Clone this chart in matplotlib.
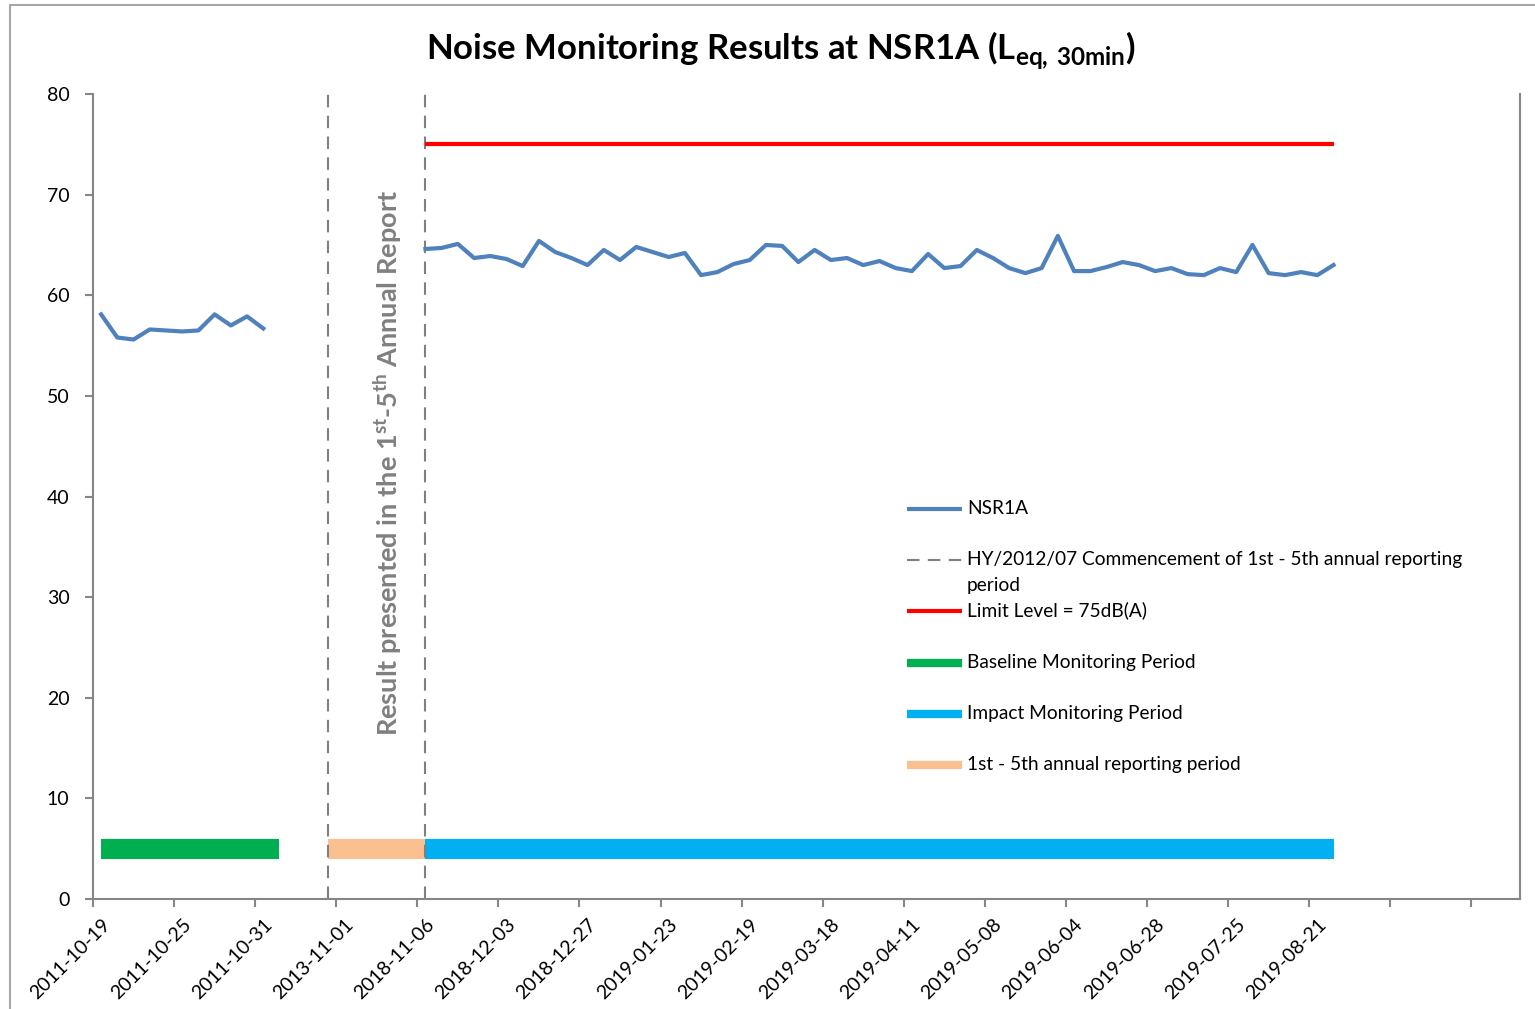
import numpy as np
import matplotlib
matplotlib.use("Agg")
import matplotlib.pyplot as plt
from matplotlib.lines import Line2D

plt.rcParams['font.family'] = ['Lato', 'DejaVu Sans']
plt.rcParams['mathtext.fontset'] = 'custom'
plt.rcParams['mathtext.rm'] = 'Lato'
plt.rcParams['mathtext.bf'] = 'Lato:bold'

# category axis: 88 slots, a date label on every 5th one
n_categories = 88
label_pos = [0, 5, 10, 15, 20, 25, 30, 35, 40, 45, 50, 55, 60, 65, 70, 75]
tick_labels = ["2011-10-19", "2011-10-25", "2011-10-31", "2013-11-01",
               "2018-11-06", "2018-12-03", "2018-12-27", "2019-01-23",
               "2019-02-19", "2019-03-18", "2019-04-11", "2019-05-08",
               "2019-06-04", "2019-06-28", "2019-07-25", "2019-08-21"]

# baseline readings, categories 0..10
baseline_x = np.arange(0, 11)
baseline_leq = [58.1, 55.8, 55.6, 56.6, 56.5, 56.4, 56.5, 58.1, 57.0, 57.9, 56.7]

# impact monitoring readings, categories 20..76
impact_x = np.arange(20, 77)
impact_leq = [64.6, 64.7, 65.1, 63.7, 63.9, 63.6, 62.9, 65.4, 64.3, 63.7,
              63.0, 64.5, 63.5, 64.8, 64.3, 63.8, 64.2, 62.0, 62.3, 63.1,
              63.5, 65.0, 64.9, 63.3, 64.5, 63.5, 63.7, 63.0, 63.4, 62.7,
              62.4, 64.1, 62.7, 62.9, 64.5, 63.7, 62.7, 62.2, 62.7, 65.9,
              62.4, 62.4, 62.8, 63.3, 63.0, 62.4, 62.7, 62.1, 62.0, 62.7,
              62.3, 65.0, 62.2, 62.0, 62.3, 62.0, 63.0]

limit_level = 75
limit_span = [20, 76]
commencement_x = [14, 20]

band_level = 5
baseline_period = [0, 11]
annual_period = [14, 20]
impact_period = [20, 76]

blue = "#4f81bd"
red = "#ff0000"
green = "#00b050"
cyan = "#00b0f0"
peach = "#fac090"
grey = "#808080"
axis_grey = "#868686"

fig = plt.figure(figsize=(15.35, 10.09), dpi=100)
ax = fig.add_axes([93 / 1535, 110 / 1009, 1427 / 1535, 805 / 1009])

band_lw = 14.5
ax.plot(baseline_period, [band_level] * 2, color=green, lw=band_lw, solid_capstyle='butt')
ax.plot(annual_period, [band_level] * 2, color=peach, lw=band_lw, solid_capstyle='butt')
ax.plot(impact_period, [band_level] * 2, color=cyan, lw=band_lw, solid_capstyle='butt')

for cx in commencement_x:
    ax.plot([cx, cx], [0, 80], color=grey, lw=1.5, dashes=(6, 4))

ax.plot(limit_span, [limit_level] * 2, color=red, lw=3, solid_capstyle='butt')
ax.plot(baseline_x, baseline_leq, color=blue, lw=3, solid_joinstyle='round')
ax.plot(impact_x, impact_leq, color=blue, lw=3, solid_joinstyle='round')

ax.text(17.7, 43.3, r"Result presented in the 1$^{\mathbf{st}}$-5$^{\mathbf{th}}$ Annual Report",
        rotation=90, ha='center', va='center', fontsize=19.5, fontweight='bold', color=grey)

ax.set_xlim(-0.5, n_categories - 0.5)
ax.set_ylim(0, 80)
ax.set_yticks(np.arange(0, 81, 10))
ax.set_xticks(np.arange(-0.5, 85, 5))
ax.set_xticklabels([])
ax.set_xticks(label_pos, minor=True)
ax.set_xticklabels(tick_labels, minor=True, rotation=45, ha='right', va='top',
                   rotation_mode='anchor', fontsize=14)
ax.tick_params(axis='x', which='minor', length=0, pad=12)
ax.tick_params(axis='both', which='major', direction='out', length=6, width=1.5,
               color=axis_grey, labelsize=14)
ax.tick_params(axis='y', pad=11)
for side in ['left', 'bottom', 'right']:
    ax.spines[side].set_color(axis_grey)
    ax.spines[side].set_linewidth(1.5)
ax.spines['top'].set_visible(False)

# legend drawn by hand to keep Excel-like spacing
hx = [0.5704, 0.609]
tx = 0.6125
entries = [
    (0.485, dict(color=blue, lw=3), "NSR1A"),
    (0.4216, dict(color=grey, lw=1.5, dashes=(6, 4)), "HY/2012/07 Commencement of 1st - 5th annual reporting"),
    (0.3582, dict(color=red, lw=3), "Limit Level = 75dB(A)"),
    (0.2937, dict(color=green, lw=6), "Baseline Monitoring Period"),
    (0.2303, dict(color=cyan, lw=6), "Impact Monitoring Period"),
    (0.167, dict(color=peach, lw=6), "1st - 5th annual reporting period"),
]
for ly, style, label in entries:
    ax.add_line(Line2D(hx, [ly, ly], transform=ax.transAxes, solid_capstyle='butt', **style))
    ax.text(tx, ly, label, transform=ax.transAxes, va='center', ha='left', fontsize=13.8)
ax.text(tx, 0.4216 - 26 / 805, "period", transform=ax.transAxes, va='center', ha='left', fontsize=13.8)

fig.text(781 / 1535, 1 - 50 / 1009, r"Noise Monitoring Results at NSR1A (L$_{\mathbf{eq,\,30min}}$)",
         ha='center', va='center', fontsize=25, fontweight='bold')

# outer chart frame (only left and top edges are inside the picture)
fig.add_artist(Line2D([10 / 1535, 10 / 1535, 1], [0, 1 - 5 / 1009, 1 - 5 / 1009],
                      transform=fig.transFigure, color="#a6a6a6", lw=1.5))

fig.savefig("out.png", dpi=100)
